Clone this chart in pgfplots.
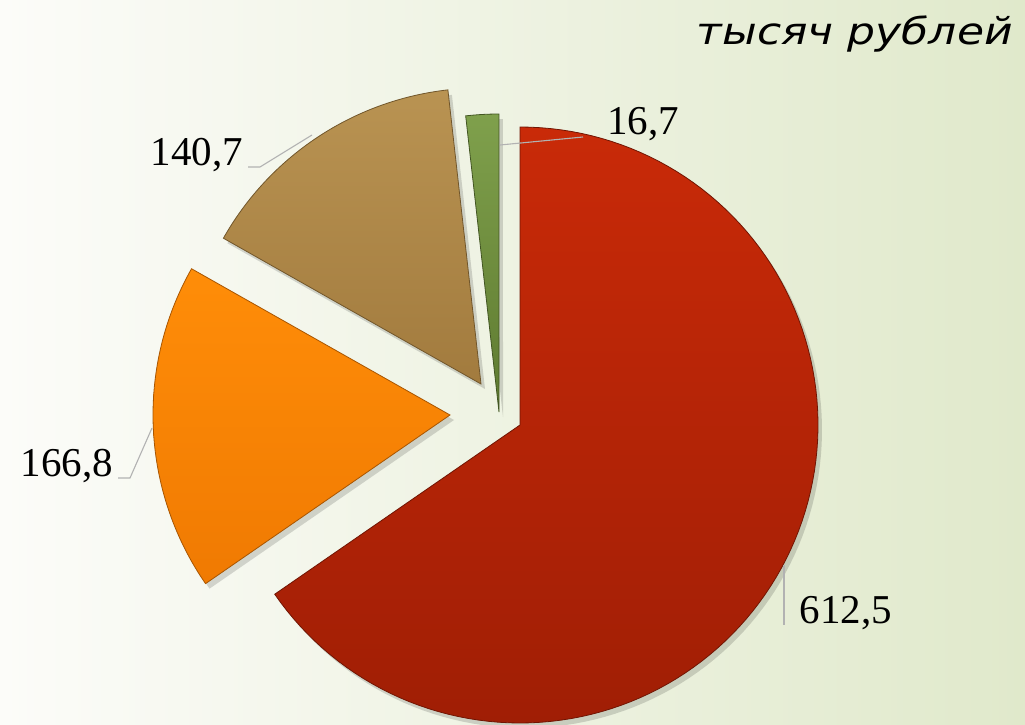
\documentclass[border=0pt]{standalone}
\usepackage{pgfplots}
\pgfplotsset{compat=1.18}
\usepackage{pgfplotstable}
\usepackage{fontspec}
\setmainfont{Liberation Serif}
\newfontfamily\titlefont{DejaVu Sans}
\definecolor{bgL}{HTML}{FCFCF9}
\definecolor{bgM}{HTML}{F1F4E6}
\definecolor{bgR}{HTML}{E0E9CB}
\definecolor{redT}{HTML}{C92A08}
\definecolor{redB}{HTML}{A01E05}
\definecolor{orT}{HTML}{FF8D08}
\definecolor{orB}{HTML}{F07A02}
\definecolor{brT}{HTML}{B99352}
\definecolor{brB}{HTML}{A27B3E}
\definecolor{grT}{HTML}{7FA04C}
\definecolor{grB}{HTML}{5E7A30}

% slice value, vertex x, vertex y (picture px, y up), radius
\pgfplotstableread{
value cx cy r
612.5 520 299 298
166.8 450 309 297
140.7 481 340 296
16.7  499 312 298
}\piedata

\pgfplotstablegetelem{0}{value}\of\piedata\let\va\pgfplotsretval
\pgfplotstablegetelem{1}{value}\of\piedata\let\vb\pgfplotsretval
\pgfplotstablegetelem{2}{value}\of\piedata\let\vc\pgfplotsretval
\pgfplotstablegetelem{3}{value}\of\piedata\let\vd\pgfplotsretval
\pgfmathsetmacro\total{\va+\vb+\vc+\vd}
\pgfmathsetmacro\aA{90}
\pgfmathsetmacro\aB{\aA-360*(\va/\total)}
\pgfmathsetmacro\aC{\aB-360*(\vb/\total)}
\pgfmathsetmacro\aD{\aC-360*(\vc/\total)}
\pgfmathsetmacro\aE{\aD-360*(\vd/\total)}
% slice: #1 row, #2 from angle, #3 to angle, #4 top colour, #5 bottom colour
\newcommand\slice[5]{%
  \pgfplotstablegetelem{#1}{cx}\of\piedata\edef\cx{\pgfplotsretval}%
  \pgfplotstablegetelem{#1}{cy}\of\piedata\edef\cy{\pgfplotsretval}%
  \pgfplotstablegetelem{#1}{r}\of\piedata\edef\rr{\pgfplotsretval}%
  \edef\tmp{\noexpand\addplot[draw=none, fill=black, fill opacity=0.15,
      domain=#2:#3, samples=120, variable=\noexpand\t]
    ({\cx+4+\rr*cos(\noexpand\t)}, {\cy-5+\rr*sin(\noexpand\t)}) -- (axis cs:\cx+4,\cy-5) -- cycle;
    \noexpand\addplot[draw=#5!70!black, line width=0.8pt, top color=#4, bottom color=#5,
      domain=#2:#3, samples=120, variable=\noexpand\t]
    ({\cx+\rr*cos(\noexpand\t)}, {\cy+\rr*sin(\noexpand\t)}) -- (axis cs:\cx,\cy) -- cycle;}%
  \tmp
}

\begin{document}
\begin{tikzpicture}
\begin{axis}[
  width=1025pt, height=724pt, scale only axis,
  xmin=0, xmax=1025, ymin=0, ymax=724,
  hide axis, clip=false,
  axis background/.style={shade, shading angle=-15, left color=bgL, middle color=bgM, right color=bgR},
]
\slice{0}{\aB}{\aA}{redT}{redB}
\slice{1}{\aC}{\aB}{orT}{orB}
\slice{2}{\aD}{\aC}{brT}{brB}
\slice{3}{\aE}{\aD}{grT}{grB}

% leader lines
\addplot[gray!60, line width=1.1pt] coordinates {(500,579) (583,587)};
\addplot[gray!60, line width=1.1pt] coordinates {(248,557) (260,557) (312,589)};
\addplot[gray!60, line width=1.1pt] coordinates {(118,246) (130,246) (152,296)};
\addplot[gray!60, line width=1.1pt] coordinates {(784,159) (784,99)};

\node[font=\fontsize{41}{45}\selectfont] at (axis cs:643,600) {16,7};
\node[font=\fontsize{41}{45}\selectfont] at (axis cs:197,569) {140,7};
\node[font=\fontsize{41}{45}\selectfont] at (axis cs:67,258) {166,8};
\node[font=\fontsize{41}{45}\selectfont] at (axis cs:846,111) {612,5};

\node[anchor=base east, inner sep=0pt, xscale=1.19, font=\titlefont\itshape\fontsize{37}{42}\selectfont]
  at (axis cs:1013,679) {тысяч рублей};
\end{axis}
\pgfresetboundingbox
\path (current axis.south west) rectangle (current axis.north east);
\end{tikzpicture}
\end{document}
